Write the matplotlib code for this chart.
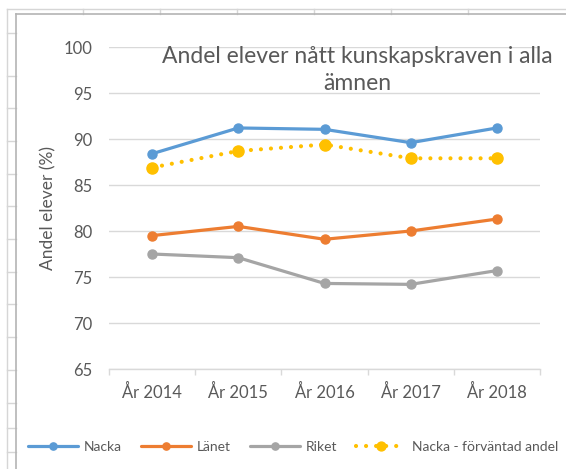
import matplotlib
matplotlib.use("Agg")
import matplotlib.pyplot as plt
from matplotlib.lines import Line2D

categories = ["År 2014", "År 2015", "År 2016", "År 2017", "År 2018"]
nacka = [88.4, 91.2, 91.05, 89.6, 91.2]
lanet = [79.5, 80.5, 79.1, 80.0, 81.3]
riket = [77.5, 77.1, 74.3, 74.2, 75.7]
forvantad = [86.9, 88.7, 89.4, 87.9, 87.9]
yticks = [65, 70, 75, 80, 85, 90, 95, 100]
series_names = ["Nacka", "Länet", "Riket", "Nacka - förväntad andel"]
title = "Andel elever nått kunskapskraven i alla\nämnen"
ylabel = "Andel elever (%)"

plt.rcParams['font.family'] = ['Lato', 'DejaVu Sans']
W, H = 566, 469
fig = plt.figure(figsize=(W/100, H/100), dpi=100)
txt = '#595959'
grid = '#d9d9d9'

def px(x0, y0, x1, y1, color, lw=1.0):
    fig.add_artist(Line2D([x0/W, x1/W], [1-y0/H, 1-y1/H], color=color, lw=lw,
                          transform=fig.transFigure, zorder=0))

# spreadsheet background lines
px(7, 9, 7, H, '#d6d6d6')
px(7, 9, W, 9, '#d6d6d6')
for yy in [33, 76, 108, 141, 174, 206, 239, 272, 304, 337, 370, 403, 428, 452]:
    px(7, yy, 16, yy, '#d6d6d6')
for xx in [83, 160, 237, 314, 391, 468]:
    px(xx, 9, xx, 14, '#d6d6d6')
px(16, 14, 16, H, '#b4b4b4', 1.2)
px(16, 14, W, 14, '#b4b4b4', 1.2)

ax = fig.add_axes([109/W, 1-369/H, (540-109)/W, (369-47)/H])
x = list(range(len(categories)))
ax.set_xlim(-0.5, len(categories)-0.5)
ax.set_ylim(65, 100)
ax.set_yticks(yticks)
ax.grid(axis='y', color=grid, lw=1.0)
ax.set_axisbelow(True)
for s in ['top', 'right', 'left']:
    ax.spines[s].set_visible(False)
ax.spines['bottom'].set_color(grid)
ax.spines['bottom'].set_linewidth(1.0)
ax.tick_params(axis='y', length=0, pad=12, labelsize=12, labelcolor=txt)
ax.set_xticks(x)
ax.set_xticklabels(categories)
ax.tick_params(axis='x', which='major', length=0, pad=11, labelsize=12, labelcolor=txt)
ax.set_xticks([i-0.5 for i in range(len(categories)+1)], minor=True)
ax.tick_params(axis='x', which='minor', length=4, color=grid, width=1.0)
ax.set_ylabel(ylabel, fontsize=12.5, color=txt, labelpad=5)

lw = 2.3
ax.plot(x, nacka, color='#5B9BD5', lw=lw, marker='o', ms=6.5, label=series_names[0], solid_capstyle='round')
ax.plot(x, lanet, color='#ED7D31', lw=lw, marker='o', ms=6.5, label=series_names[1], solid_capstyle='round')
ax.plot(x, riket, color='#A5A5A5', lw=lw, marker='o', ms=6.5, label=series_names[2], solid_capstyle='round')
ax.plot(x, forvantad, color='#FFC000', lw=3.0, linestyle=(0, (0.01, 2.4)), dash_capstyle='round',
        marker='o', ms=8, label=series_names[3])

fig.text(357/W, 1-70/H, title, ha='center', va='center', fontsize=16.5, color=txt, linespacing=1.35)

leg = ax.legend(ncol=4, loc='center', bbox_to_anchor=(293/W, 1-447/H), bbox_transform=fig.transFigure,
                frameon=False, fontsize=10, labelcolor=txt, handlelength=3.6, handletextpad=0.4,
                columnspacing=1.4, markerscale=0.8)

fig.savefig("out.png", dpi=100)
